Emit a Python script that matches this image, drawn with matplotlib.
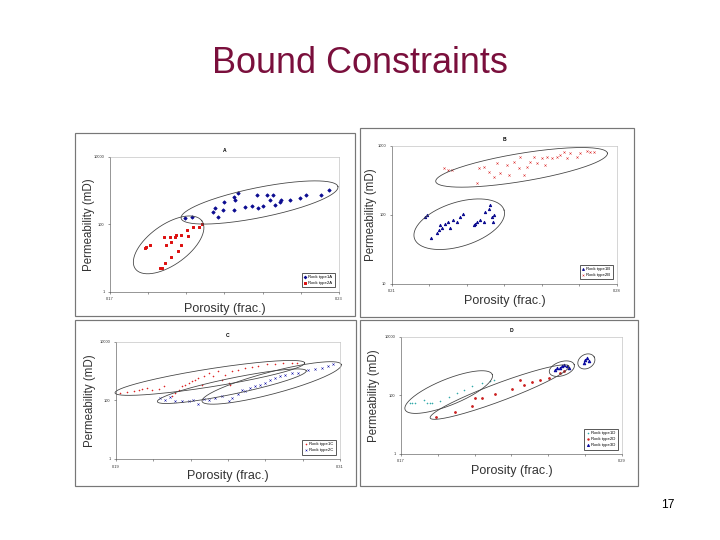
import numpy as np
import matplotlib
matplotlib.use("Agg")
import matplotlib.pyplot as plt
from matplotlib.patches import Rectangle

# ---- data ----
a1_x = [0.1915, 0.1896, 0.197, 0.1975, 0.1983, 0.1996, 0.1999, 0.2024, 0.2024, 0.2027, 0.2036, 0.2053, 0.2071,
        0.2084, 0.2088, 0.2101, 0.2112, 0.2119, 0.2127, 0.2132, 0.2145, 0.2149, 0.2171, 0.2197, 0.2214, 0.2254, 0.2275]
a1_y = [170, 152, 240, 300, 162, 270, 470, 270, 660, 530, 870, 335, 355, 740, 300, 355, 740, 530, 740, 375, 470,
        530, 530, 590, 740, 740, 1040]
a2_x = [0.1792, 0.1794, 0.1805, 0.1831, 0.1837, 0.1844, 0.1842, 0.1848, 0.1857, 0.1861, 0.186, 0.187, 0.1874,
        0.1877, 0.1886, 0.1887, 0.1901, 0.1905, 0.1918, 0.1933, 0.1942]
a2_y = [20, 22, 25, 5.1, 5.1, 7.2, 44, 25, 44, 31, 11, 44, 49, 16, 25, 49, 69, 46, 86, 82, 100]

b1_x = [0.2204, 0.2209, 0.2221, 0.224, 0.2245, 0.225, 0.2256, 0.2266, 0.2273, 0.2281, 0.229, 0.2302, 0.2313,
        0.2321, 0.2354, 0.2359, 0.2364, 0.2375, 0.2385, 0.239, 0.2401, 0.2406, 0.2411, 0.2416, 0.2414]
b1_y = [94, 100, 47, 54, 60, 71, 64, 75, 80, 64, 84, 80, 94, 105, 71, 75, 80, 84, 80, 111, 124, 139, 94, 100, 80]
b2_x = [0.2261, 0.2273, 0.2287, 0.2364, 0.237, 0.2385, 0.2401, 0.2416, 0.2426, 0.2437, 0.2458, 0.2463, 0.2479,
        0.2494, 0.2499, 0.251, 0.252, 0.253, 0.2541, 0.2551, 0.2567, 0.2577, 0.2582, 0.2598, 0.2613, 0.2624,
        0.2634, 0.2644, 0.2655, 0.2676, 0.2686, 0.2707, 0.2717, 0.2727]
b2_y = [474, 448, 448, 287, 474, 500, 424, 358, 560, 401, 530, 379, 592, 474, 700, 379, 500, 592, 700, 560, 661,
        530, 700, 661, 700, 740, 830, 661, 780, 700, 780, 850, 830, 810]

c1_x = [0.1923, 0.1959, 0.1994, 0.2021, 0.2039, 0.2066, 0.2093, 0.2128, 0.2155, 0.22, 0.2217, 0.2235, 0.2253,
        0.2271, 0.2289, 0.2307, 0.2324, 0.2342, 0.236, 0.2369, 0.2396, 0.2422, 0.2449, 0.2467, 0.2485, 0.2503,
        0.2512, 0.2521, 0.2556, 0.2592, 0.2628, 0.2663, 0.2708, 0.2752, 0.2797, 0.2841, 0.2868]
c1_y = [181, 196, 218, 236, 255, 269, 236, 255, 307, 139, 181, 236, 307, 350, 400, 456, 520, 594, 350, 678, 883,
        678, 1006, 520, 773, 400, 350, 1006, 1061, 1310, 1380, 1496, 1706, 1800, 1947, 1947, 1947]
c2_x = [0.2137, 0.2164, 0.2191, 0.2217, 0.2253, 0.2289, 0.2315, 0.2342, 0.2369, 0.2396, 0.2431, 0.2467, 0.2503,
        0.2521, 0.2556, 0.2574, 0.2592, 0.2619, 0.2646, 0.2672, 0.2699, 0.2726, 0.2752, 0.2779, 0.2806, 0.2841,
        0.2877, 0.2931, 0.2966, 0.3002, 0.3038, 0.3064]
c2_y = [122, 107, 128, 94, 94, 99, 107, 76, 116, 107, 122, 139, 94, 122, 167, 236, 207, 269, 307, 350, 400, 520,
        594, 678, 773, 883, 883, 1061, 1148, 1310, 1496, 1706]

d1_x = [0.1747, 0.176, 0.1778, 0.1827, 0.1841, 0.1857, 0.1866, 0.1913, 0.1959, 0.2004, 0.204, 0.2086, 0.214,
        0.2185, 0.2203]
d1_y = [55, 55, 55, 71, 55, 55, 55, 66, 92, 120, 156, 204, 265, 318, 345]
d2_x = [0.1892, 0.1995, 0.2086, 0.2104, 0.214, 0.2212, 0.2303, 0.2348, 0.2366, 0.2411, 0.2457, 0.2502, 0.2565,
        0.2583]
d2_y = [19, 28, 45, 81, 81, 111, 169, 345, 232, 286, 345, 393, 583, 665]
d3_x = [0.2538, 0.2547, 0.2562, 0.2574, 0.2587, 0.2601, 0.261, 0.2692, 0.2701, 0.271, 0.2719]
d3_y = [759, 865, 865, 987, 1125, 987, 865, 1284, 1671, 1905, 1466]

plt.rcParams['font.family'] = ['Liberation Sans', 'DejaVu Sans']

fig = plt.figure(figsize=(10, 7.5), dpi=72)
fig.text(0.5, 0.883, "Bound Constraints", ha="center", va="center", fontsize=36, color="#7a0f3c")
fig.text(0.928, 0.065, "17", ha="center", va="center", fontsize=12, color="black")

# panel frames (px: left, top, right, bottom)
for l, t, r, b in [(75, 133, 355, 316), (360, 128, 634, 317), (75, 320, 356, 486), (360, 320, 638, 486)]:
    fig.add_artist(Rectangle((l / 720, 1 - b / 540), (r - l) / 720, (b - t) / 540, transform=fig.transFigure,
                             fill=False, ec="#777777", lw=1.2))


def ellipse(ax, cx, cy, a, b, ang):
    # a, b half axes in pixels, drawn in axes fraction
    w = ax.bbox.width
    h = ax.bbox.height
    t = np.linspace(0, 2 * np.pi, 200)
    th = np.radians(ang)
    px = a * np.cos(t) * np.cos(th) - b * np.sin(t) * np.sin(th)
    py = a * np.cos(t) * np.sin(th) + b * np.sin(t) * np.cos(th)
    ax.plot(cx + px / w, cy + py / h, transform=ax.transAxes, color="#444444", lw=0.8, clip_on=False)


def setup(ax, title, xlim, ylim, yticks, ylabel_x):
    ax.set_yscale("log")
    ax.set_xlim(*xlim)
    ax.set_ylim(*ylim)
    ax.set_yticks(yticks)
    ax.set_yticklabels([str(v) for v in yticks])
    ax.yaxis.set_minor_locator(matplotlib.ticker.NullLocator())
    ax.set_xticks(xlim)
    ax.set_xticklabels([f"{v:.2f}" for v in xlim])
    ax.set_xticks(np.linspace(xlim[0], xlim[1], 7), minor=True)
    ax.tick_params(labelsize=4, length=2, width=0.5, colors="#333333", which="both")
    for s in ["top", "right"]:
        ax.spines[s].set_color("#bbbbbb")
    for s in ["left", "bottom"]:
        ax.spines[s].set_color("#555555")
    for s in ax.spines.values():
        s.set_linewidth(0.6)
    ax.set_title(title, fontsize=5, fontweight="bold", pad=5)
    ax.set_xlabel("Porosity (frac.)", fontsize=12.5, color="#333333", labelpad=2)
    ax.set_ylabel("Permeability (mD)", fontsize=11.5, color="#333333", labelpad=1)
    ax.yaxis.set_label_coords(ylabel_x, 0.5)


def legend(ax, loc_y):
    ax.legend(loc="lower right", fontsize=4.2, frameon=True, fancybox=False, edgecolor="#333333",
              handlelength=0.8, handletextpad=0.3, borderpad=0.5, markerscale=0.8,
              bbox_to_anchor=(0.99, loc_y))


ax = fig.add_axes([0.1528, 0.4593, 0.318, 0.25])
ax.scatter(a1_x, a1_y, marker="D", s=5, color="#0a0a90", label="Rock type1A")
ax.scatter(a2_x, a2_y, marker="s", s=5, color="#dd1111", label="Rock type2A")
setup(ax, "A", (0.17, 0.23), (1, 10000), [1, 100, 10000], -0.065)
legend(ax, 0.02)
ellipse(ax, 0.653, 0.663, 80, 15, 11.4)
ellipse(ax, 0.256, 0.349, 41, 20, 35.7)

ax = fig.add_axes([0.5444, 0.4741, 0.3125, 0.2556])
ax.scatter(b1_x, b1_y, marker="^", s=5, color="#0a0a90", label="Rock type1B")
ax.scatter(b2_x, b2_y, marker="x", s=5, lw=0.5, color="#dd3333", label="Rock type2B")
setup(ax, "B", (0.21, 0.28), (10, 1000), [10, 100, 1000], -0.067)
legend(ax, 0.02)
ellipse(ax, 0.576, 0.845, 87, 14, 9.4)
ellipse(ax, 0.299, 0.433, 47, 22, 17.5)

ax = fig.add_axes([0.1611, 0.15, 0.3111, 0.2167])
ax.scatter(c1_x, c1_y, marker="+", s=5, lw=0.5, color="#dd2222", label="Rock type1C")
ax.scatter(c2_x, c2_y, marker="x", s=5, lw=0.5, color="#1a1aaa", label="Rock type2C")
setup(ax, "C", (0.19, 0.31), (1, 10000), [1, 100, 10000], -0.09)
legend(ax, 0.02)
ellipse(ax, 0.419, 0.693, 96, 9, 9)
ellipse(ax, 0.517, 0.622, 76, 8, 11.7)
ellipse(ax, 0.695, 0.65, 72, 11, 14.8)

ax = fig.add_axes([0.5569, 0.1593, 0.3069, 0.2167])
ax.scatter(d1_x, d1_y, marker="+", s=6, lw=0.5, color="#33aaaa", label="Rock type1D")
ax.scatter(d2_x, d2_y, marker="o", s=3, color="#cc2222", label="Rock type2D")
ax.scatter(d3_x, d3_y, marker="^", s=6, color="#0a0aa0", label="Rock type3D")
setup(ax, "D", (0.17, 0.29), (1, 10000), [1, 100, 10000], -0.095)
legend(ax, 0.02)
ellipse(ax, 0.216, 0.529, 47, 13, 22)
ellipse(ax, 0.446, 0.529, 74, 9, 20.5)
ellipse(ax, 0.728, 0.729, 13, 7, 18)
ellipse(ax, 0.839, 0.791, 9, 7, 30)

fig.savefig("out.png", dpi=72)
